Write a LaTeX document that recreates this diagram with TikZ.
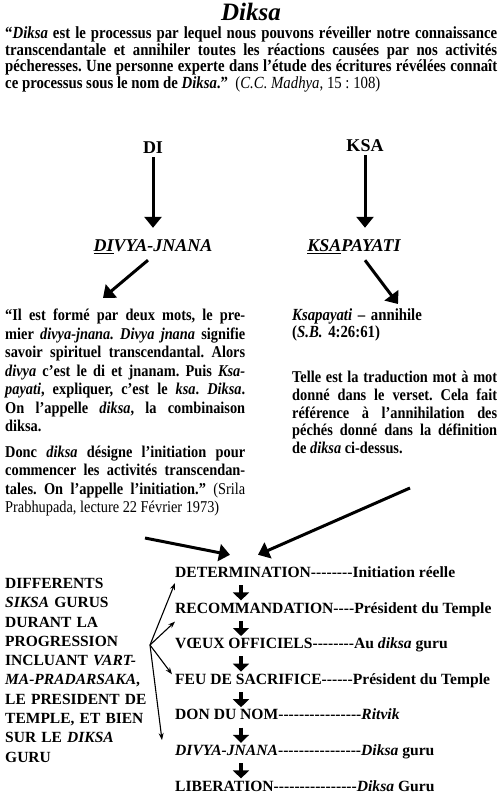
\documentclass[tikz,border=0pt]{standalone}
\usepackage{fontspec}
\setmainfont{Liberation Serif}
\newfontfamily\bodyfont{Liberation Serif}[FakeStretch=0.87]
\usetikzlibrary{positioning}
\usetikzlibrary{arrows.meta}
\usetikzlibrary{calc}
\frenchspacing

\newcommand{\dashes}[1]{\foreach \d in {1,...,#1}{-}}

\begin{document}
\begin{tikzpicture}[x=1pt, y=-1pt,
    title/.style={font=\fontsize{25}{28}\selectfont\bfseries\itshape, inner sep=0},
    para/.style={font=\bodyfont\fontsize{17}{16.7}\selectfont\bfseries, align=justify, inner sep=0, anchor=north west},
    root/.style={font=\fontsize{18}{20}\selectfont\bfseries, inner sep=0},
    word/.style={font=\fontsize{18}{20}\selectfont\bfseries\itshape, inner sep=0},
    stage/.style={font=\fontsize{15.6}{18}\selectfont\bfseries, anchor=base west, inner sep=0, text height=11.5pt, text depth=3.5pt},
    bigarrow/.style={-{Triangle[width=17pt,length=11pt]}, line width=3pt},
    steparrow/.style={-{Triangle[width=16pt,length=8pt]}, line width=4.5pt},
    fanarrow/.style={-{Stealth[length=7pt,width=5pt]}, line width=1.1pt}
]
\useasboundingbox (0,0) rectangle (500,798);

% Title and quote
\node[title] (title) at (251,11.5) {Diksa};
\node[para, text width=492pt] (quote) at (5,26.5) {“\textit{Diksa} est le processus par lequel nous pouvons réveiller notre connaissance\linebreak
transcendantale et annihiler toutes les réactions causées par nos activités\linebreak
pécheresses. Une personne experte dans l’étude des écritures révélées connaît\linebreak
ce processus sous le nom de \textit{Diksa}.”\ \ {\mdseries(\textit{C.C. Madhya}, 15 : 108)}};

% Roots
\node[root] (di) at (153,148) {DI};
\node[root] (ksa) at (365,146) {KSA};
\node[word] (divya) at (153,247) {\underline{DI}VYA-JNANA};
\node[word] (ksap) at (354,247) {\underline{KSA}PAYATI};

% Explanations
\node[para, text width=240pt, font=\bodyfont\fontsize{16.5}{18.5}\selectfont\bfseries] (lpar) at (5,309) {“Il est formé par deux mots, le pre-\linebreak
mier \textit{divya-jnana. Divya jnana} signifie\linebreak
savoir spirituel transcendantal. Alors\linebreak
\textit{divya} c’est le di et jnanam. Puis \textit{Ksa-}\linebreak
\textit{payati}, expliquer, c’est le \textit{ksa}. \textit{Diksa}.\linebreak
On l’appelle \textit{diksa}, la combinaison\linebreak
diksa.\par\vspace{7pt}
Donc \textit{diksa} désigne l’initiation pour\linebreak
commencer les activités transcendan-\linebreak
tales. On l’appelle l’initiation.” {\mdseries(Srila}\linebreak
{\mdseries Prabhupada, lecture 22 Février 1973)}};

\node[para, text width=205pt, align=left] (ksahead) at (292,309) {\textit{Ksapayati} – annihile\\
(\textit{S.B.} 4:26:61)};
\node[para, text width=205pt, font=\bodyfont\fontsize{16.5}{17.7}\selectfont\bfseries] (ksapar) at (292,371) {Telle est la traduction mot à mot\linebreak
donné dans le verset. Cela fait\linebreak
référence à l’annihilation des\linebreak
péchés donné dans la définition\linebreak
de \textit{diksa} ci-dessus.};

% Stages
\node[stage] (r1) at (175,577.5) {DETERMINATION\dashes{8}Initiation réelle};
\node[stage, below=20.2pt of r1.south west, anchor=north west] (r2) {RECOMMANDATION\dashes{4}Président du Temple};
\node[stage, below=20.2pt of r2.south west, anchor=north west] (r3) {VŒUX OFFICIELS\dashes{8}Au \textit{diksa} guru};
\node[stage, below=20.2pt of r3.south west, anchor=north west] (r4) {FEU DE SACRIFICE\dashes{6}Président du Temple};
\node[stage, below=20.2pt of r4.south west, anchor=north west] (r5) {DON DU NOM\dashes{16}\textit{Ritvik}};
\node[stage, below=20.2pt of r5.south west, anchor=north west] (r6) {\textit{DIVYA-JNANA}\dashes{16}\textit{Diksa} guru};
\node[stage, below=20.2pt of r6.south west, anchor=north west] (r7) {LIBERATION\dashes{16}\textit{Diksa} Guru};

% Gurus
\node[para, align=left, text width=150pt, font=\fontsize{15.5}{19.3}\selectfont\bfseries] (gurus) at (5,578) {DIFFERENTS\\
\textit{SIKSA} GURUS\\
DURANT LA\\
PROGRESSION\\
INCLUANT \textit{VART-}\\
\textit{MA-PRADARSAKA},\\
LE PRESIDENT DE\\
TEMPLE, ET BIEN\\
SUR LE \textit{DIKSA}\\
GURU};

\coordinate (fan) at (150,645);
\coordinate (lefttail) at (145,538);
\coordinate (righttail) at (410,488);

% Arrows
\draw[bigarrow, shorten <=3pt, shorten >=12pt] (di) -- (divya);
\draw[bigarrow, shorten <=3pt, shorten >=12pt] (ksa) -- (ksa |- ksap.north);
\draw[bigarrow] ($(divya.south)+(-5,6)$) -- ($(lpar.north west)+(98,-11)$);
\draw[bigarrow] ($(ksap.south)+(11,6)$) -- ($(ksahead.north west)+(106,-5)$);
\draw[bigarrow] (lefttail) -- ($(r1.north west)+(55,-11)$);
\draw[bigarrow] (righttail) -- ($(r1.north west)+(83,-11)$);

\foreach \a/\b in {r1/r2, r2/r3, r3/r4, r4/r5, r5/r6, r6/r7}
  \draw[steparrow, shorten <=4pt, shorten >=1pt] ($(\a.south west)+(66,0)$) -- ($(\b.north west)+(66,0)$);

\draw[fanarrow] (fan) -- ($(r1.base west)+(0,5.5)$);
\draw[fanarrow] (fan) -- ($(r2.base west)+(0,8.5)$);
\draw[fanarrow] (fan) -- ($(r4.base west)+(-3,-10)$);
\draw[fanarrow] (fan) -- ($(r6.base west)+(-13,-15.5)$);

\end{tikzpicture}
\end{document}
